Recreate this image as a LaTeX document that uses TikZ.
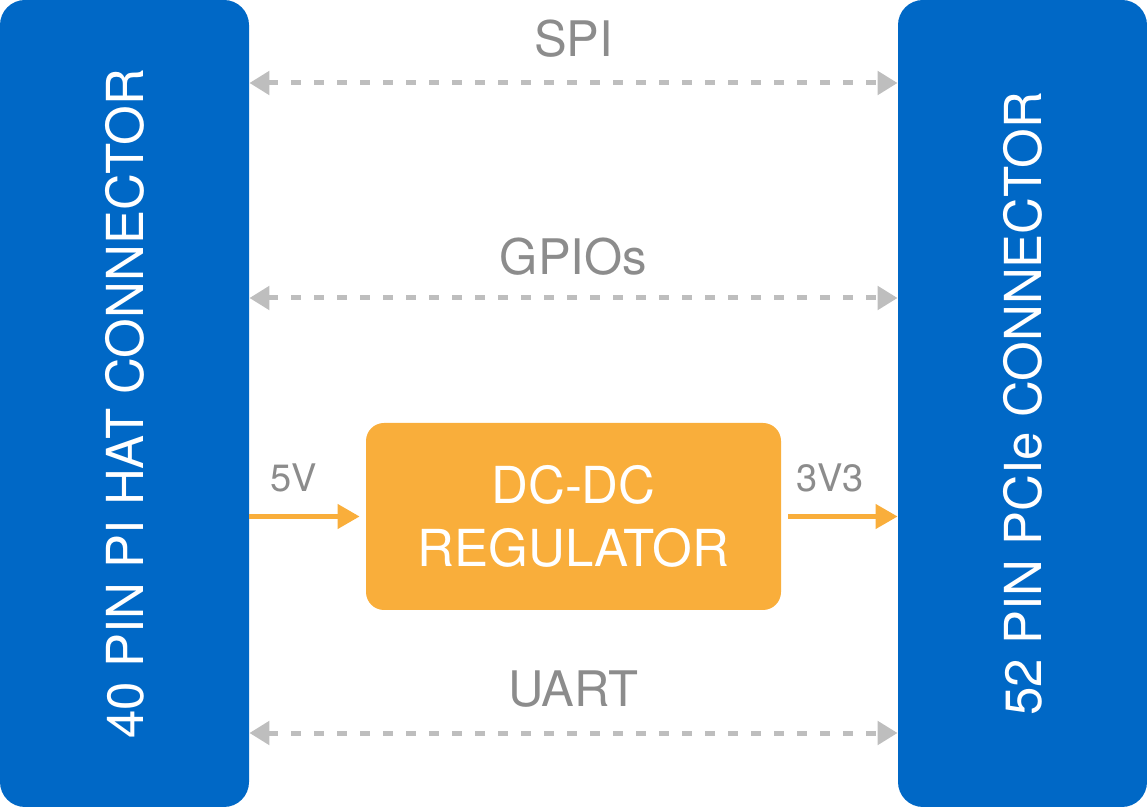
\documentclass[tikz,border=0pt]{standalone}
\usepackage{fontspec}
\setmainfont{TeX Gyre Heros}
\usepackage{tikz}
\usetikzlibrary{arrows.meta,positioning,calc}
\definecolor{hatblue}{RGB}{0,104,198}
\definecolor{regorange}{RGB}{249,174,59}
\definecolor{linegray}{RGB}{190,190,190}
\definecolor{labelgray}{RGB}{140,140,140}

\begin{document}
\begin{tikzpicture}[x=0.5pt, y=-0.5pt, font=\fontsize{24.5}{28}\selectfont,
  conn/.style={fill=hatblue, rounded corners=12.5pt, text=white, inner sep=0pt,
    minimum width=403.5pt, minimum height=124.5pt, rotate=90,
    font=\fontsize{25.5}{30}\selectfont},
  reg/.style={fill=regorange, rounded corners=9pt, text=white, align=center,
    minimum width=207.5pt, minimum height=93.5pt,
    font=\fontsize{25.5}{31.5}\selectfont},
  bus/.style={linegray, line width=2.5pt, dash pattern=on 5pt off 6.5pt,
    {Triangle[length=10pt,width=11.5pt]}-{Triangle[length=10pt,width=11.5pt]}},
  pwr/.style={regorange, line width=2.2pt, -{Triangle[length=11pt,width=12pt]}},
  lbl/.style={text=labelgray, inner sep=0pt}]
\useasboundingbox (0,0) rectangle (1147,807);

% Connectors
\node[conn] (hat) at (124.5,403.5) {40 PIN PI HAT CONNECTOR};
\node[conn] (pcie) at (1022.5,403.5) {52 PIN PCIe CONNECTOR};

% Regulator
\node[reg] (reg) at (573.5,516.5) {DC-DC\\REGULATOR};

% Signals
\draw[bus] (hat.south |- 0,83) -- node[lbl, above=11.5pt] {SPI} (pcie.north |- 0,83);
\draw[bus] (hat.south |- 0,298) -- node[lbl, above=10pt] {GPIOs} (pcie.north |- 0,298);
\draw[bus] (hat.south |- 0,733) -- node[lbl, above=11.5pt] {UART} (pcie.north |- 0,733);

% Power
\draw[pwr, shorten >=3pt] (hat.south |- reg) -- node[lbl, above=11pt, pos=0.38,
  font=\fontsize{19}{22}\selectfont] {5V} (reg.west);
\draw[pwr, shorten <=3.5pt] (reg.east) -- node[lbl, above=11pt, pos=0.42,
  font=\fontsize{19}{22}\selectfont] {3V3} (pcie.north |- reg);
\end{tikzpicture}
\end{document}
